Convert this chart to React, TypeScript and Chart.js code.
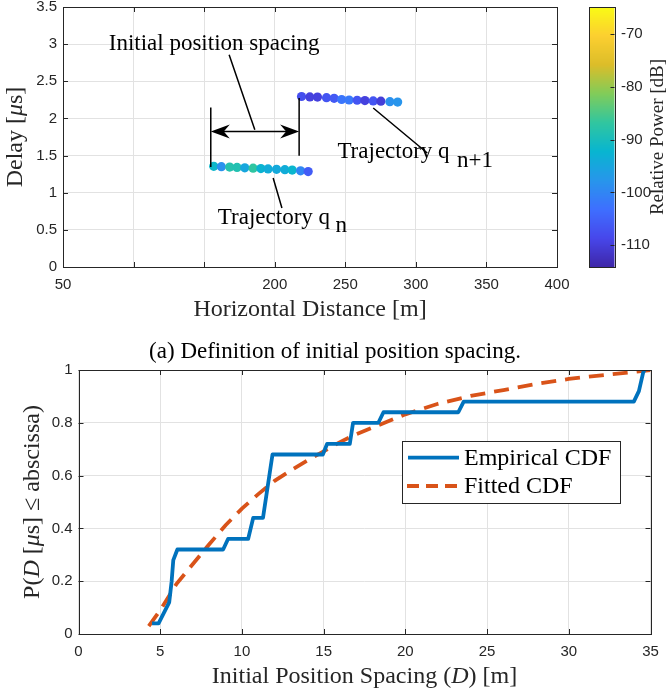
import React, { useEffect, useRef } from "react";
import { Chart, registerables } from "chart.js";
Chart.register(...registerables);

// ---------- Panel (a): trajectories ----------
const qnDistance = [156.8, 162.2, 168.1, 173.3, 178.8, 184.7, 190.2, 195.3, 201.3, 207.2, 212.4, 218.3, 223.7];
const qnDelay = [1.355, 1.35, 1.345, 1.34, 1.335, 1.33, 1.325, 1.32, 1.315, 1.31, 1.305, 1.295, 1.285];
const qnPower = [-91.5, -98.4, -88.3, -88.8, -94.9, -87.0, -92.5, -93.9, -94.4, -93.9, -92.0, -99.8, -105.7];

const qn1Distance = [219.0, 224.9, 230.3, 236.7, 242.1, 247.4, 252.7, 258.4, 263.9, 269.8, 275.2, 281.6, 287.1];
const qn1Delay = [2.295, 2.29, 2.288, 2.28, 2.27, 2.255, 2.248, 2.245, 2.24, 2.235, 2.232, 2.225, 2.22];
const qn1Power = [-107.7, -109.7, -109.7, -106.7, -106.2, -102.3, -101.8, -106.7, -109.7, -106.7, -110.2, -98.4, -97.9];

const topXTicks = [50, 100, 150, 200, 250, 300, 350, 400];
const topXTickLabels = ["50", "", "", "200", "250", "300", "350", "400"];
const topYTicks = [0, 0.5, 1, 1.5, 2, 2.5, 3, 3.5];
const topYTickLabels = ["0", "0.5", "1", "1.5", "2", "2.5", "3", "3.5"];

const colorbarTicks = [-70, -80, -90, -100, -110];
const colorbarRange = [-114.1, -64.9];

// annotation geometry in data units: [x1, y1, x2, y2]
const annoLines = [
  [154.7, 2.148, 154.7, 1.346],
  [217.3, 2.275, 217.3, 1.498],
  [167.7, 2.858, 185.9, 1.848],
  [269.8, 2.14, 308.1, 1.535],
  [198.9, 1.198, 205.1, 0.794],
];
const arrowSpan = [154.7, 217.3, 1.825];
const annoTexts = [
  { text: "Initial position spacing", x: 82.4, y: 2.925 },
  { text: "Trajectory q", x: 244.4, y: 1.471 },
  { text: "n+1", x: 329.1, y: 1.35 },
  { text: "Trajectory q", x: 159.7, y: 0.583 },
  { text: "n", x: 243.0, y: 0.475 },
];

// ---------- Panel (b): CDF ----------
const empX = [4.5, 4.9, 5.55, 5.7, 5.8, 6.05, 8.85, 9.15, 10.38, 10.69, 11.29, 11.87, 14.95, 15.21, 16.6, 16.8, 18.35, 18.66, 23.24, 23.57, 33.98, 34.29, 34.55, 34.63];
const empY = [0.04, 0.04, 0.12, 0.2, 0.28, 0.32, 0.32, 0.36, 0.36, 0.44, 0.44, 0.68, 0.68, 0.72, 0.72, 0.8, 0.8, 0.84, 0.84, 0.88, 0.88, 0.92, 0.99, 1.0];

const fitX = [4.3, 5, 6, 7, 8, 9, 10, 11, 12, 13, 14, 15, 16, 17, 18, 20, 22, 24, 26, 28, 30, 32, 34, 35];
const fitY = [0.03, 0.09, 0.19, 0.265, 0.34, 0.412, 0.475, 0.53, 0.58, 0.62, 0.657, 0.692, 0.727, 0.757, 0.782, 0.832, 0.872, 0.902, 0.924, 0.947, 0.966, 0.98, 0.993, 1.0];

const botXTicks = [0, 5, 10, 15, 20, 25, 30, 35];
const botYTicks = [0, 0.2, 0.4, 0.6, 0.8, 1];
const botYTickLabels = ["0", "0.2", "0.4", "0.6", "0.8", "1"];
const legendLabels = ["Empirical CDF", "Fitted CDF"];

const BLUE = "#0072BD";
const ORANGE = "#D95319";
const AXIS = "#262626";
const GRID = "#e2e2e2";
const SANS = '"Liberation Sans", Arial, sans-serif';
const SERIF = '"Liberation Serif", "Times New Roman", serif';

type Seg = [string, boolean];
const topXTitle: Seg[] = [["Horizontal Distance [m]", false]];
const topYTitle: Seg[] = [["Delay [", false], ["μ", true], ["s]", false]];
const botXTitle: Seg[] = [["Initial Position Spacing (", false], ["D", true], [") [m]", false]];
const botYTitle: Seg[] = [["P(", false], ["D", true], [" [", false], ["μ", true], ["s] ≤ abscissa)", false]];

const parulaStops = [
  [62, 38, 168], [71, 71, 235], [62, 111, 255], [39, 150, 235], [8, 181, 208],
  [49, 198, 159], [129, 204, 89], [220, 189, 41], [252, 207, 48], [249, 251, 21],
];
function parula(t: number) {
  const tt = Math.max(0, Math.min(1, t));
  const s = tt * (parulaStops.length - 1);
  const i = Math.min(parulaStops.length - 2, Math.floor(s));
  const f = s - i;
  const a = parulaStops[i], b = parulaStops[i + 1];
  const c = [0, 1, 2].map((k) => Math.round(a[k] + (b[k] - a[k]) * f));
  return `rgb(${c[0]},${c[1]},${c[2]})`;
}
function powerColor(p: number) {
  return parula((p - colorbarRange[0]) / (colorbarRange[1] - colorbarRange[0]));
}

function drawRich(ctx: CanvasRenderingContext2D, segs: Seg[], cx: number, cy: number, size: number, rotate: boolean) {
  ctx.save();
  ctx.translate(cx, cy);
  if (rotate) ctx.rotate(-Math.PI / 2);
  ctx.fillStyle = AXIS;
  ctx.textBaseline = "middle";
  ctx.textAlign = "left";
  const fontOf = (it: boolean) => `${it ? "italic " : ""}${size}px ${SERIF}`;
  let total = 0;
  for (const [t, it] of segs) { ctx.font = fontOf(it); total += ctx.measureText(t).width; }
  let x = -total / 2;
  for (const [t, it] of segs) {
    ctx.font = fontOf(it);
    ctx.fillText(t, x, 0);
    x += ctx.measureText(t).width;
  }
  ctx.restore();
}

function drawFrame(ctx: CanvasRenderingContext2D, chart: any, xt: number[], yt: number[]) {
  const a = chart.chartArea;
  const xs = chart.scales.x, ys = chart.scales.y;
  ctx.save();
  ctx.strokeStyle = AXIS;
  ctx.lineWidth = 1;
  const L = 5;
  ctx.beginPath();
  for (const v of xt) {
    const px = Math.round(xs.getPixelForValue(v)) + 0.5;
    ctx.moveTo(px, a.bottom); ctx.lineTo(px, a.bottom - L);
    ctx.moveTo(px, a.top); ctx.lineTo(px, a.top + L);
  }
  for (const v of yt) {
    const py = Math.round(ys.getPixelForValue(v)) + 0.5;
    ctx.moveTo(a.left, py); ctx.lineTo(a.left + L, py);
    ctx.moveTo(a.right, py); ctx.lineTo(a.right - L, py);
  }
  ctx.stroke();
  ctx.strokeRect(Math.round(a.left) + 0.5, Math.round(a.top) + 0.5, Math.round(a.right - a.left), Math.round(a.bottom - a.top));
  ctx.restore();
}

const topPlugin = {
  id: "topDecor",
  afterDatasetsDraw(chart: any) {
    const ctx = chart.ctx as CanvasRenderingContext2D;
    const xs = chart.scales.x, ys = chart.scales.y;
    const a = chart.chartArea;
    ctx.save();
    ctx.strokeStyle = "#000";
    ctx.lineWidth = 1.5;
    ctx.beginPath();
    for (const [x1, y1, x2, y2] of annoLines) {
      ctx.moveTo(xs.getPixelForValue(x1), ys.getPixelForValue(y1));
      ctx.lineTo(xs.getPixelForValue(x2), ys.getPixelForValue(y2));
    }
    const ax1 = xs.getPixelForValue(arrowSpan[0]);
    const ax2 = xs.getPixelForValue(arrowSpan[1]);
    const ay = ys.getPixelForValue(arrowSpan[2]);
    ctx.moveTo(ax1 + 10, ay); ctx.lineTo(ax2 - 10, ay);
    ctx.stroke();
    const HL = 19, HW = 7, IN = 13;
    ctx.fillStyle = "#000";
    ctx.beginPath();
    ctx.moveTo(ax1, ay); ctx.lineTo(ax1 + HL, ay - HW); ctx.lineTo(ax1 + IN, ay); ctx.lineTo(ax1 + HL, ay + HW); ctx.closePath();
    ctx.moveTo(ax2, ay); ctx.lineTo(ax2 - HL, ay - HW); ctx.lineTo(ax2 - IN, ay); ctx.lineTo(ax2 - HL, ay + HW); ctx.closePath();
    ctx.fill();
    ctx.font = `23px ${SERIF}`;
    ctx.textAlign = "left";
    ctx.textBaseline = "alphabetic";
    for (const t of annoTexts) {
      ctx.fillText(t.text, xs.getPixelForValue(t.x), ys.getPixelForValue(t.y));
    }
    ctx.restore();

    drawFrame(ctx, chart, topXTicks, topYTicks);

    // axis titles
    drawRich(ctx, topXTitle, (a.left + a.right) / 2, 310, 24, false);
    drawRich(ctx, topYTitle, 16, (a.top + a.bottom) / 2, 24, true);

    // colorbar
    ctx.save();
    const cbL = 589, cbR = 614.5;
    const top = a.top, bot = a.bottom;
    for (let py = Math.floor(top); py < Math.ceil(bot); py++) {
      const t = 1 - (py + 0.5 - top) / (bot - top);
      ctx.fillStyle = parula(t);
      ctx.fillRect(cbL, py, cbR - cbL, 1);
    }
    ctx.strokeStyle = AXIS;
    ctx.lineWidth = 1;
    ctx.strokeRect(Math.round(cbL) + 0.5, Math.round(top) + 0.5, Math.round(cbR - cbL), Math.round(bot - top));
    ctx.font = `15px ${SANS}`;
    ctx.fillStyle = AXIS;
    ctx.textAlign = "left";
    ctx.textBaseline = "middle";
    ctx.beginPath();
    for (const v of colorbarTicks) {
      const py = bot - (v - colorbarRange[0]) / (colorbarRange[1] - colorbarRange[0]) * (bot - top);
      ctx.moveTo(cbR, Math.round(py) + 0.5); ctx.lineTo(cbR - 4, Math.round(py) + 0.5);
      ctx.fillText(String(v), 621, py);
    }
    ctx.stroke();
    ctx.translate(658, (top + bot) / 2);
    ctx.rotate(-Math.PI / 2);
    ctx.textAlign = "center";
    ctx.font = `19px ${SERIF}`;
    ctx.fillText("Relative Power [dB]", 0, 0);
    ctx.restore();

    // caption
    ctx.save();
    ctx.font = `23px ${SERIF}`;
    ctx.fillStyle = "#000";
    ctx.textAlign = "center";
    ctx.textBaseline = "alphabetic";
    ctx.fillText("(a) Definition of initial position spacing.", 335, 358);
    ctx.restore();
  },
};

const botPlugin = {
  id: "botDecor",
  afterDatasetsDraw(chart: any) {
    const ctx = chart.ctx as CanvasRenderingContext2D;
    const a = chart.chartArea;
    drawFrame(ctx, chart, botXTicks, botYTicks);
    drawRich(ctx, botXTitle, (a.left + a.right) / 2, 327, 24, false);
    drawRich(ctx, botYTitle, 33, (a.top + a.bottom) / 2, 24, true);
    // legend
    ctx.save();
    const bx = 402, by = 91, bw = 218, bh = 62;
    ctx.fillStyle = "#fff";
    ctx.fillRect(bx, by, bw, bh);
    ctx.strokeStyle = AXIS;
    ctx.lineWidth = 1;
    ctx.strokeRect(bx + 0.5, by + 0.5, bw, bh);
    const rows = [107.7, 136];
    ctx.lineWidth = 3.8;
    ctx.lineCap = "butt";
    ctx.strokeStyle = BLUE;
    ctx.beginPath(); ctx.moveTo(408, rows[0]); ctx.lineTo(459, rows[0]); ctx.stroke();
    ctx.strokeStyle = ORANGE;
    ctx.setLineDash([12, 7]);
    ctx.beginPath(); ctx.moveTo(407, rows[1]); ctx.lineTo(459, rows[1]); ctx.stroke();
    ctx.setLineDash([]);
    ctx.fillStyle = "#000";
    ctx.font = `24px ${SERIF}`;
    ctx.textAlign = "left";
    ctx.textBaseline = "middle";
    ctx.fillText(legendLabels[0], 464, rows[0] + 1);
    ctx.fillText(legendLabels[1], 464, rows[1] + 1);
    ctx.restore();
  },
};

function fixY(w: number) {
  return (s: any) => { s.width = w; s.paddingTop = 0; s.paddingBottom = 0; };
}
function fixX(h: number) {
  return (s: any) => { s.height = h; s.paddingLeft = 0; s.paddingRight = 0; };
}
function labelFrom(ticks: number[], labels: string[]) {
  return (v: any) => {
    const i = ticks.findIndex((t) => Math.abs(t - Number(v)) < 1e-9);
    return i >= 0 ? labels[i] : "";
  };
}

export default function App() {
  const topRef = useRef<HTMLCanvasElement>(null);
  const botRef = useRef<HTMLCanvasElement>(null);

  useEffect(() => {
    const tickFont = { family: SANS, size: 15 };

    const top = new Chart(topRef.current!, {
      type: "scatter",
      data: {
        datasets: [
          {
            label: "Trajectory q_n",
            data: qnDistance.map((x, i) => ({ x, y: qnDelay[i] })),
            backgroundColor: qnPower.map(powerColor),
            pointRadius: 4.6,
            pointBorderWidth: 0,
            borderWidth: 0,
          },
          {
            label: "Trajectory q_n+1",
            data: qn1Distance.map((x, i) => ({ x, y: qn1Delay[i] })),
            backgroundColor: qn1Power.map(powerColor),
            pointRadius: 4.6,
            pointBorderWidth: 0,
            borderWidth: 0,
          },
        ],
      },
      options: {
        animation: false,
        responsive: false,
        devicePixelRatio: 1,
        layout: { padding: { top: 7, right: 112, bottom: 40, left: 0 } },
        plugins: { legend: { display: false }, tooltip: { enabled: false } },
        scales: {
          x: {
            type: "linear",
            min: 50,
            max: 400,
            afterFit: fixX(63),
            afterBuildTicks: (s: any) => { s.ticks = topXTicks.map((v) => ({ value: v })); },
            ticks: {
              autoSkip: false,
              maxRotation: 0,
              padding: 9,
              color: AXIS,
              font: tickFont,
              callback: labelFrom(topXTicks, topXTickLabels),
            },
            grid: { color: GRID, lineWidth: 1, drawTicks: false },
            border: { display: false },
            title: { display: false, text: "Horizontal Distance [m]" },
          },
          y: {
            min: 0,
            max: 3.5,
            afterFit: fixY(63),
            afterBuildTicks: (s: any) => { s.ticks = topYTicks.map((v) => ({ value: v })); },
            ticks: { padding: 6, color: AXIS, font: tickFont, autoSkip: false, callback: labelFrom(topYTicks, topYTickLabels) },
            grid: { color: GRID, lineWidth: 1, drawTicks: false },
            border: { display: false },
            title: { display: false, text: "Delay [μs]" },
          },
        },
      },
      plugins: [topPlugin],
    } as any);

    const bot = new Chart(botRef.current!, {
      type: "line",
      data: {
        datasets: [
          {
            label: legendLabels[0],
            data: empX.map((x, i) => ({ x, y: empY[i] })),
            borderColor: BLUE,
            borderWidth: 3.8,
            pointRadius: 0,
            tension: 0,
            fill: false,
            borderJoinStyle: "round",
          },
          {
            label: legendLabels[1],
            data: fitX.map((x, i) => ({ x, y: fitY[i] })),
            borderColor: ORANGE,
            borderWidth: 3.8,
            borderDash: [15, 9],
            pointRadius: 0,
            tension: 0,
            fill: false,
          },
        ],
      },
      options: {
        animation: false,
        responsive: false,
        devicePixelRatio: 1,
        layout: { padding: { top: 20, right: 18.5, bottom: 0, left: 0 } },
        plugins: { legend: { display: false }, tooltip: { enabled: false } },
        scales: {
          x: {
            type: "linear",
            min: 0,
            max: 35,
            afterFit: fixX(60),
            afterBuildTicks: (s: any) => { s.ticks = botXTicks.map((v) => ({ value: v })); },
            ticks: { autoSkip: false, maxRotation: 0, padding: 9, color: AXIS, font: tickFont },
            grid: { color: GRID, lineWidth: 1, drawTicks: false },
            border: { display: false },
            title: { display: false, text: "Initial Position Spacing (D) [m]" },
          },
          y: {
            min: 0,
            max: 1,
            afterFit: fixY(78.5),
            afterBuildTicks: (s: any) => { s.ticks = botYTicks.map((v) => ({ value: v })); },
            ticks: { padding: 6, color: AXIS, font: tickFont, autoSkip: false, callback: labelFrom(botYTicks, botYTickLabels) },
            grid: { color: GRID, lineWidth: 1, drawTicks: false },
            border: { display: false },
            title: { display: false, text: "P(D [μs] ≤ abscissa)" },
          },
        },
      },
      plugins: [botPlugin],
    } as any);

    return () => { top.destroy(); bot.destroy(); };
  }, []);

  return (
    <div style={{ position: "absolute", left: 0, top: 0, width: 669, height: 694, background: "#fff" }}>
      <canvas ref={topRef} width={669} height={370} style={{ position: "absolute", left: 0, top: 0, width: 669, height: 370 }} />
      <canvas ref={botRef} width={669} height={344} style={{ position: "absolute", left: 0, top: 350, width: 669, height: 344 }} />
    </div>
  );
}
